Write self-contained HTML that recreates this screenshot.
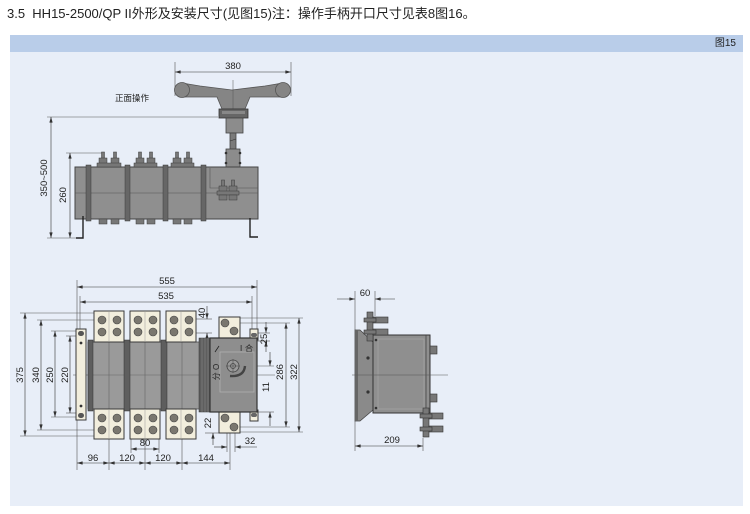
<!DOCTYPE html>
<html><head><meta charset="utf-8">
<style>
html,body{margin:0;padding:0;background:#fff;}
body{width:750px;height:514px;position:relative;overflow:hidden;font-family:"Liberation Sans","Noto Sans CJK SC",sans-serif;}
.title{position:absolute;left:7px;top:6px;font-size:13px;line-height:15px;color:#222;white-space:nowrap;}
.panel{position:absolute;left:10px;top:35px;width:733px;height:471px;background:#e8eef8;}
.hdr{position:absolute;left:10px;top:35px;width:733px;height:17px;background:#b9cde9;}
.hdr span{position:absolute;right:7px;top:3px;font-size:10px;line-height:11px;color:#222;}
svg{position:absolute;left:0;top:0;}
</style></head><body>
<div class="title">3.5&nbsp; HH15-2500/QP II外形及安装尺寸(见图15)注：操作手柄开口尺寸见表8图16。</div>
<div class="panel"></div>
<div class="hdr"><span>图15</span></div>
<svg width="750" height="514" viewBox="0 0 750 514" xmlns="http://www.w3.org/2000/svg" font-family="Liberation Sans, Noto Sans CJK SC, sans-serif">
<defs>
<marker id="ar" viewBox="0 0 10 6" refX="10" refY="3" markerWidth="6" markerHeight="3.4" orient="auto-start-reverse" markerUnits="userSpaceOnUse"><path d="M0,0L10,3L0,6z" fill="#333"/></marker>
</defs>

<!-- ================= FRONT VIEW ================= -->
<g stroke="#555" stroke-width="0.6" fill="none">
  <line x1="175" y1="62" x2="175" y2="96"/>
  <line x1="291" y1="62" x2="291" y2="96"/>
  <line x1="175" y1="72" x2="291" y2="72" marker-start="url(#ar)" marker-end="url(#ar)" stroke="#333"/>
  <line x1="47" y1="117" x2="218" y2="117"/>
  <line x1="51" y1="117" x2="51" y2="238" marker-start="url(#ar)" marker-end="url(#ar)" stroke="#333"/>
  <line x1="66" y1="153" x2="103" y2="153"/>
  <line x1="70" y1="153" x2="70" y2="238" marker-start="url(#ar)" marker-end="url(#ar)" stroke="#333"/>
  <line x1="47" y1="238" x2="83" y2="238"/>
</g>
<g font-size="9.5" fill="#222">
  <text x="233" y="69" text-anchor="middle">380</text>
  <text x="115" y="101" font-size="8.5">正面操作</text>
  <text transform="translate(47,178) rotate(-90)" text-anchor="middle">350~500</text>
  <text transform="translate(66,195) rotate(-90)" text-anchor="middle">260</text>
</g>

<!-- handle -->
<path d="M182,83 L200,86 L232,90 L265,86 L283,83 L283,97 L250,97 L245,109 L222,109 L217,97 L182,97 Z" fill="#858585" stroke="#555" stroke-width="0.8"/>
<circle cx="182" cy="90" r="7.5" fill="#858585" stroke="#555" stroke-width="0.8"/>
<circle cx="283" cy="90" r="7.5" fill="#858585" stroke="#555" stroke-width="0.8"/>
<line x1="233" y1="80" x2="233" y2="110" stroke="#555" stroke-width="0.5"/>
<rect x="219" y="109" width="29" height="9" fill="#666" stroke="#333" stroke-width="0.8"/>
<rect x="222" y="111" width="23" height="3" fill="#888"/>
<rect x="226" y="118" width="17" height="15" fill="#8c8c8c" stroke="#444" stroke-width="0.8"/>
<rect x="230" y="133" width="6" height="16" fill="#7a7a7a" stroke="#444" stroke-width="0.8"/>
<line x1="230" y1="141" x2="236" y2="139" stroke="#333" stroke-width="0.6"/>
<rect x="226" y="149" width="14" height="18" fill="#8c8c8c" stroke="#444" stroke-width="0.8"/>
<circle cx="226" cy="153" r="1.3" fill="#333"/><circle cx="240" cy="153" r="1.3" fill="#333"/>
<circle cx="226" cy="163" r="1.3" fill="#333"/><circle cx="240" cy="163" r="1.3" fill="#333"/>

<!-- body -->
<rect x="75" y="167" width="183" height="52" fill="#8f8f8f" stroke="#444" stroke-width="1"/>
<line x1="75" y1="193" x2="258" y2="193" stroke="#555" stroke-width="0.6"/>
<g fill="#666" stroke="#3a3a3a" stroke-width="0.5">
  <rect x="86" y="165" width="5" height="56"/>
  <rect x="125" y="165" width="5" height="56"/>
  <rect x="163" y="165" width="5" height="56"/>
  <rect x="201" y="165" width="5" height="56"/>
</g>
<path d="M210,168 V188 H258" fill="none" stroke="#555" stroke-width="0.6"/>
<g fill="#777" stroke="#3a3a3a" stroke-width="0.5">
  <rect x="101.5" y="152" width="3" height="7"/><rect x="99" y="158" width="8" height="6"/>
  <rect x="113.5" y="152" width="3" height="7"/><rect x="111" y="158" width="8" height="6"/>
  <rect x="97" y="163" width="24" height="4"/>
  <rect x="138.5" y="152" width="3" height="7"/><rect x="136" y="158" width="8" height="6"/>
  <rect x="149.5" y="152" width="3" height="7"/><rect x="147" y="158" width="8" height="6"/>
  <rect x="134" y="163" width="23" height="4"/>
  <rect x="175.5" y="152" width="3" height="7"/><rect x="173" y="158" width="8" height="6"/>
  <rect x="186.5" y="152" width="3" height="7"/><rect x="184" y="158" width="8" height="6"/>
  <rect x="171" y="163" width="23" height="4"/>
  <rect x="99" y="219" width="8" height="5"/><rect x="111" y="219" width="8" height="5"/>
  <rect x="136" y="219" width="8" height="5"/><rect x="147" y="219" width="8" height="5"/>
  <rect x="173" y="219" width="8" height="5"/><rect x="184" y="219" width="8" height="5"/>
  <rect x="221.5" y="180" width="3" height="7"/><rect x="219" y="186" width="8" height="6"/>
  <rect x="231.5" y="180" width="3" height="7"/><rect x="229" y="186" width="8" height="6"/>
  <rect x="217" y="191" width="22" height="4"/>
  <rect x="219" y="195" width="8" height="5"/><rect x="229" y="195" width="8" height="5"/>
</g>
<polyline points="83,216 83,238 76,238" fill="none" stroke="#222" stroke-width="1.4"/>
<polyline points="250,218 250,237 258,237" fill="none" stroke="#222" stroke-width="1.4"/>

<!-- ================= PLAN VIEW ================= -->
<g stroke="#555" stroke-width="0.6" fill="none">
  <line x1="77" y1="280" x2="77" y2="470"/>
  <line x1="80" y1="296" x2="80" y2="330"/>
  <line x1="257" y1="280" x2="257" y2="330"/>
  <line x1="252" y1="296" x2="252" y2="330"/>
  <line x1="77" y1="287" x2="257" y2="287" marker-start="url(#ar)" marker-end="url(#ar)" stroke="#333"/>
  <line x1="80" y1="302" x2="252" y2="302" marker-start="url(#ar)" marker-end="url(#ar)" stroke="#333"/>
  <line x1="20" y1="313" x2="95" y2="313"/>
  <line x1="20" y1="436" x2="95" y2="436"/>
  <line x1="37" y1="320" x2="94" y2="320"/>
  <line x1="37" y1="430" x2="94" y2="430"/>
  <line x1="51" y1="331" x2="77" y2="331"/>
  <line x1="51" y1="417" x2="77" y2="417"/>
  <line x1="66" y1="336" x2="77" y2="336"/>
  <line x1="66" y1="413" x2="77" y2="413"/>
  <line x1="25" y1="313" x2="25" y2="436" marker-start="url(#ar)" marker-end="url(#ar)" stroke="#333"/>
  <line x1="41" y1="320" x2="41" y2="430" marker-start="url(#ar)" marker-end="url(#ar)" stroke="#333"/>
  <line x1="55" y1="331" x2="55" y2="417" marker-start="url(#ar)" marker-end="url(#ar)" stroke="#333"/>
  <line x1="70" y1="336" x2="70" y2="413" marker-start="url(#ar)" marker-end="url(#ar)" stroke="#333"/>
  <line x1="73" y1="375" x2="275" y2="375"/>
  <line x1="109" y1="438" x2="109" y2="470"/>
  <line x1="145" y1="438" x2="145" y2="470"/>
  <line x1="182" y1="438" x2="182" y2="470"/>
  <line x1="230" y1="400" x2="230" y2="470"/>
  <line x1="131" y1="438" x2="131" y2="453"/>
  <line x1="159" y1="438" x2="159" y2="453"/>
  <line x1="131" y1="449" x2="159" y2="449" marker-start="url(#ar)" marker-end="url(#ar)" stroke="#333"/>
  <line x1="77" y1="463" x2="109" y2="463" marker-start="url(#ar)" marker-end="url(#ar)" stroke="#333"/>
  <line x1="109" y1="463" x2="145" y2="463" marker-start="url(#ar)" marker-end="url(#ar)" stroke="#333"/>
  <line x1="145" y1="463" x2="182" y2="463" marker-start="url(#ar)" marker-end="url(#ar)" stroke="#333"/>
  <line x1="182" y1="463" x2="230" y2="463" marker-start="url(#ar)" marker-end="url(#ar)" stroke="#333"/>
  <line x1="240" y1="318" x2="303" y2="318"/>
  <line x1="240" y1="432" x2="303" y2="432"/>
  <line x1="240" y1="323" x2="290" y2="323"/>
  <line x1="240" y1="427" x2="290" y2="427"/>
  <line x1="299" y1="318" x2="299" y2="432" marker-start="url(#ar)" marker-end="url(#ar)" stroke="#333"/>
  <line x1="286" y1="323" x2="286" y2="427" marker-start="url(#ar)" marker-end="url(#ar)" stroke="#333"/>
  <line x1="196" y1="319" x2="212" y2="319"/>
  <line x1="196" y1="333" x2="212" y2="333"/>
  <line x1="207" y1="306" x2="207" y2="319" marker-end="url(#ar)" stroke="#333"/>
  <line x1="207" y1="346" x2="207" y2="333" marker-end="url(#ar)" stroke="#333"/>
  <line x1="256" y1="333" x2="270" y2="333"/>
  <line x1="256" y1="341" x2="270" y2="341"/>
  <line x1="266" y1="322" x2="266" y2="333" marker-end="url(#ar)" stroke="#333"/>
  <line x1="266" y1="352" x2="266" y2="341" marker-end="url(#ar)" stroke="#333"/>
  <line x1="240" y1="366" x2="274" y2="366"/>
  <line x1="258" y1="412" x2="274" y2="412"/>
  <line x1="270" y1="352" x2="270" y2="366" marker-end="url(#ar)" stroke="#333"/>
  <line x1="270" y1="426" x2="270" y2="412" marker-end="url(#ar)" stroke="#333"/>
  <line x1="233" y1="395" x2="233" y2="407"/>
  <line x1="255" y1="395" x2="255" y2="407"/>
  <line x1="233" y1="403" x2="255" y2="403" marker-start="url(#ar)" marker-end="url(#ar)" stroke="#333"/>
  <line x1="205" y1="410" x2="219" y2="410"/>
  <line x1="205" y1="433" x2="219" y2="433"/>
  <line x1="213" y1="398" x2="213" y2="410" marker-end="url(#ar)" stroke="#333"/>
  <line x1="213" y1="445" x2="213" y2="433" marker-end="url(#ar)" stroke="#333"/>
  <line x1="227" y1="420" x2="227" y2="452"/>
  <line x1="235" y1="420" x2="235" y2="452"/>
  <line x1="214" y1="447" x2="227" y2="447" marker-end="url(#ar)" stroke="#333"/>
  <line x1="257" y1="447" x2="235" y2="447" marker-end="url(#ar)" stroke="#333"/>
</g>
<g font-size="9.5" fill="#222" text-anchor="middle">
  <text x="167" y="284">555</text>
  <text x="166" y="299">535</text>
  <text transform="translate(23,375) rotate(-90)">375</text>
  <text transform="translate(39,375) rotate(-90)">340</text>
  <text transform="translate(53,375) rotate(-90)">250</text>
  <text transform="translate(68,375) rotate(-90)">220</text>
  <text x="145" y="446">80</text>
  <text x="93" y="461">96</text>
  <text x="127" y="461">120</text>
  <text x="163" y="461">120</text>
  <text x="206" y="461">144</text>
  <text transform="translate(205,313) rotate(-90)">40</text>
  <text transform="translate(267,339) rotate(-90)">25</text>
  <text transform="translate(283,372) rotate(-90)">286</text>
  <text transform="translate(297,372) rotate(-90)">322</text>
  <text transform="translate(269,387) rotate(-90)">11</text>
  <text x="245" y="400">65</text>
  <text transform="translate(211,423) rotate(-90)">22</text>
  <text x="250" y="444">32</text>
</g>

<rect x="88" y="342" width="114" height="67" fill="#9a9a9a" stroke="#555" stroke-width="0.8"/>
<g stroke="#666" stroke-width="0.6">
  <line x1="109" y1="342" x2="109" y2="409"/>
  <line x1="145" y1="342" x2="145" y2="409"/>
  <line x1="182" y1="342" x2="182" y2="409"/>
</g>
<line x1="88" y1="375" x2="210" y2="375" stroke="#666" stroke-width="0.6"/>
<g fill="#5e5e5e" stroke="#333" stroke-width="0.5">
  <rect x="88" y="340" width="5" height="71"/>
  <rect x="124" y="340" width="6" height="71"/>
  <rect x="161" y="340" width="6" height="71"/>
  <rect x="199" y="338" width="11" height="74"/>
</g>
<g stroke="#888" stroke-width="0.6">
  <line x1="202" y1="338" x2="202" y2="412"/><line x1="205" y1="338" x2="205" y2="412"/><line x1="208" y1="338" x2="208" y2="412"/>
</g>
<g fill="#f2eedd" stroke="#3a3a3a" stroke-width="1">
  <rect x="94" y="311" width="30" height="31"/>
  <rect x="130" y="311" width="30" height="31"/>
  <rect x="166" y="311" width="30" height="31"/>
  <rect x="94" y="409" width="30" height="30"/>
  <rect x="130" y="409" width="30" height="30"/>
  <rect x="166" y="409" width="30" height="30"/>
  <rect x="219" y="317" width="21" height="22"/>
  <rect x="219" y="410" width="21" height="23"/>
  <rect x="76" y="329" width="10" height="91"/>
  <rect x="250" y="329" width="8" height="11"/>
  <rect x="250" y="410" width="8" height="11"/>
</g>
<g stroke="#999" stroke-width="0.5">
  <line x1="109" y1="311" x2="109" y2="342"/><line x1="145" y1="311" x2="145" y2="342"/><line x1="181" y1="311" x2="181" y2="342"/>
  <line x1="109" y1="409" x2="109" y2="439"/><line x1="145" y1="409" x2="145" y2="439"/><line x1="181" y1="409" x2="181" y2="439"/>
</g>
<g fill="#7a776f" stroke="#444" stroke-width="0.6">
  <circle cx="102" cy="320" r="4"/><circle cx="117" cy="320" r="4"/><circle cx="102" cy="332" r="4"/><circle cx="117" cy="332" r="4"/>
  <circle cx="138" cy="320" r="4"/><circle cx="153" cy="320" r="4"/><circle cx="138" cy="332" r="4"/><circle cx="153" cy="332" r="4"/>
  <circle cx="174" cy="320" r="4"/><circle cx="189" cy="320" r="4"/><circle cx="174" cy="332" r="4"/><circle cx="189" cy="332" r="4"/>
  <circle cx="102" cy="418" r="4"/><circle cx="117" cy="418" r="4"/><circle cx="102" cy="430" r="4"/><circle cx="117" cy="430" r="4"/>
  <circle cx="138" cy="418" r="4"/><circle cx="153" cy="418" r="4"/><circle cx="138" cy="430" r="4"/><circle cx="153" cy="430" r="4"/>
  <circle cx="174" cy="418" r="4"/><circle cx="189" cy="418" r="4"/><circle cx="174" cy="430" r="4"/><circle cx="189" cy="430" r="4"/>
  <circle cx="225" cy="323" r="4"/><circle cx="234" cy="331" r="4"/>
  <circle cx="225" cy="418" r="4"/><circle cx="234" cy="427" r="4"/>
</g>
<rect x="78" y="331" width="6" height="5" rx="2.5" fill="#555"/>
<rect x="78" y="413" width="6" height="5" rx="2.5" fill="#555"/>
<circle cx="81" cy="343" r="1.4" fill="#333"/><circle cx="81" cy="406" r="1.4" fill="#333"/>
<rect x="251" y="333" width="6" height="4" rx="2" fill="#666"/>
<rect x="251" y="413" width="6" height="4" rx="2" fill="#666"/>

<rect x="210" y="338" width="47" height="74" fill="#8e8e8e" stroke="#333" stroke-width="1.2"/>
<rect x="220" y="352" width="34" height="40" fill="none" stroke="#b0b0b0" stroke-width="0.8"/>
<line x1="215" y1="352" x2="219" y2="346" stroke="#222" stroke-width="0.8"/>
<circle cx="233" cy="366" r="6" fill="#9a9a9a" stroke="#444" stroke-width="0.8"/>
<circle cx="233" cy="366" r="2.5" fill="none" stroke="#444" stroke-width="0.7"/>
<line x1="226" y1="366" x2="240" y2="366" stroke="#444" stroke-width="0.5"/>
<line x1="233" y1="359" x2="233" y2="373" stroke="#444" stroke-width="0.5"/>
<path d="M230,376 Q244,377 245,366" fill="none" stroke="#444" stroke-width="2.4"/>
<g font-size="8" fill="#222">
  <text x="240" y="351">I</text>
  <text x="245" y="351">合</text>
  <text transform="translate(219,372) rotate(-90)" text-anchor="middle">分 O</text>
</g>

<!-- ================= SIDE VIEW ================= -->
<g stroke="#555" stroke-width="0.6" fill="none">
  <line x1="355" y1="291" x2="355" y2="330"/>
  <line x1="375" y1="291" x2="375" y2="316"/>
  <line x1="337" y1="299" x2="355" y2="299" marker-end="url(#ar)" stroke="#333"/>
  <line x1="395" y1="299" x2="375" y2="299" marker-end="url(#ar)" stroke="#333"/>
  <line x1="355" y1="421" x2="355" y2="451"/>
  <line x1="423" y1="438" x2="423" y2="451"/>
  <line x1="355" y1="446" x2="423" y2="446" marker-start="url(#ar)" marker-end="url(#ar)" stroke="#333"/>
</g>
<g font-size="9.5" fill="#222" text-anchor="middle">
  <text x="365" y="296">60</text>
  <text x="392" y="443">209</text>
</g>
<path d="M355,330 L360,330 L373,342 L373,410 L360,421 L355,421 Z" fill="#8a8a8a" stroke="#444" stroke-width="0.8"/>
<rect x="355" y="330" width="3" height="91" fill="#666"/>
<rect x="373" y="335" width="57" height="78" fill="#8f8f8f" stroke="#333" stroke-width="1"/>
<rect x="378" y="339" width="46" height="70" fill="none" stroke="#a5a5a5" stroke-width="0.7"/>
<line x1="426" y1="335" x2="426" y2="413" stroke="#444" stroke-width="0.8"/>
<circle cx="368" cy="358" r="1.6" fill="#333"/><circle cx="368" cy="392" r="1.6" fill="#333"/>
<circle cx="376" cy="340" r="1.3" fill="#333"/><circle cx="376" cy="408" r="1.3" fill="#333"/>
<line x1="352" y1="375" x2="448" y2="375" stroke="#555" stroke-width="0.6"/>
<g fill="#777" stroke="#333" stroke-width="0.6">
  <rect x="367" y="312" width="6" height="29"/>
  <rect x="373" y="317" width="15" height="6"/>
  <rect x="373" y="329" width="15" height="6"/>
  <rect x="364" y="318" width="12" height="4"/>
  <rect x="364" y="330" width="12" height="4"/>
  <rect x="423" y="408" width="6" height="29"/>
  <rect x="429" y="413" width="14" height="6"/>
  <rect x="429" y="426" width="14" height="6"/>
  <rect x="420" y="414" width="12" height="4"/>
  <rect x="420" y="427" width="12" height="4"/>
  <rect x="430" y="346" width="7" height="8"/>
  <rect x="430" y="394" width="7" height="8"/>
</g>
</svg>
</body></html>
